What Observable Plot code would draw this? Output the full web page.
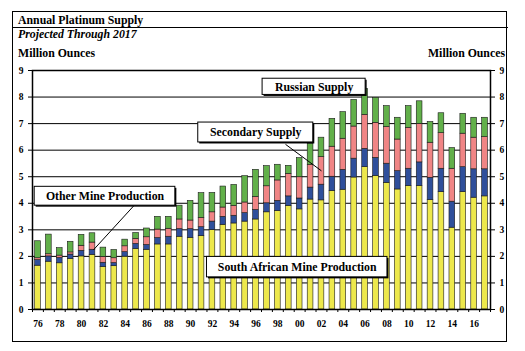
<!DOCTYPE html>
<html><head><meta charset="utf-8">
<script src="https://cdn.jsdelivr.net/npm/d3@7"></script>
<script src="https://cdn.jsdelivr.net/npm/@observablehq/plot@0.6"></script>
<style>
body{margin:0;background:#fff;font-family:"Liberation Serif",serif;}
#wrap{position:relative;width:525px;height:351px;overflow:hidden;}
.t{position:absolute;font-weight:bold;font-size:11.8px;white-space:nowrap;line-height:1;color:#000;}
</style></head><body>
<div id="wrap">
<div style="position:absolute;left:12px;top:11px;width:493px;height:329px;border:1.5px solid #000;"></div>
<div style="position:absolute;left:12px;top:26.5px;width:496px;height:1.6px;background:#000;"></div>
<div class="t" style="left:18px;top:15.2px">Annual Platinum Supply</div>
<div class="t" style="left:18px;top:29.4px;font-style:italic">Projected Through 2017</div>
<div class="t" style="left:18px;top:47.8px">Million Ounces</div>
<div class="t" style="right:20px;top:47.8px">Million Ounces</div>
<div id="chart" style="position:absolute;left:0;top:0"></div>
</div>
<script>
const years = d3.range(1976, 2018);
const southAfrican = [1.65,1.80,1.74,1.90,2.00,2.06,1.60,1.63,1.99,2.28,2.25,2.45,2.45,2.74,2.70,2.76,2.99,3.19,3.24,3.31,3.39,3.66,3.71,3.90,3.77,4.14,4.11,4.46,4.51,4.97,5.36,5.03,4.77,4.52,4.65,4.65,4.12,4.42,3.08,4.42,4.21,4.26];
const otherMine    = [0.21,0.20,0.20,0.17,0.21,0.19,0.16,0.12,0.17,0.19,0.18,0.24,0.29,0.29,0.33,0.34,0.32,0.30,0.29,0.32,0.36,0.34,0.38,0.36,0.41,0.45,0.59,0.54,0.75,0.71,0.69,0.68,0.72,0.69,0.65,0.89,0.84,0.88,0.98,0.94,1.07,1.02];
const secondary    = [0.07,0.08,0.09,0.08,0.19,0.27,0.22,0.18,0.22,0.19,0.29,0.32,0.30,0.36,0.32,0.35,0.35,0.35,0.37,0.40,0.49,0.64,0.77,0.85,0.80,0.86,1.04,1.13,1.17,1.21,1.28,1.32,1.38,1.19,1.54,1.45,1.32,1.34,1.24,1.26,1.19,1.21];
const russian      = [0.64,0.74,0.28,0.40,0.41,0.35,0.35,0.31,0.25,0.22,0.33,0.48,0.45,0.52,0.74,0.93,0.73,0.79,0.79,0.99,1.02,0.76,0.59,0.30,0.72,0.79,0.73,1.05,1.00,1.00,0.98,0.94,0.79,0.82,0.82,0.85,0.78,0.75,0.78,0.75,0.75,0.73];
const seriesNames = ["South African Mine Production","Other Mine Production","Secondary Supply","Russian Supply"];
const seriesColors = ["#ede84c","#2f4f9b","#f08585","#62b04a"];
const yTicks = d3.range(0, 10);
const xBoundaries = d3.range(1976, 2019);
const xLabelYears = d3.range(1976, 2018, 2);

const notes = [
  {label:"Other Mine Production", x1:1976.2, x2:1989.1, y1:3.91, y2:4.62},
  {label:"Secondary Supply", x1:1991.2, x2:2001.75, y1:6.29, y2:7.04},
  {label:"Russian Supply", x1:1997.1, x2:2006.55, y1:8.08, y2:8.69},
  {label:"South African Mine Production", x1:1992.0, x2:2008.55, y1:1.21, y2:1.98}
];
const leaders = [
  {x1:1985.3, y1:3.91, x2:1981.6, y2:2.25},
  {x1:1999.2, y1:6.22, x2:2002.5, y2:5.22}
];

const seriesArrays = [southAfrican, otherMine, secondary, russian];
const table = years.flatMap((yr, i) => seriesArrays.map((arr, k) => ({year: yr, series: seriesNames[k], value: arr[i]})));

const chart = Plot.plot({
  width: 525, height: 351,
  marginLeft: 32, marginRight: 35, marginTop: 70, marginBottom: 42,
  style: {fontFamily: "Liberation Serif", fontWeight: "bold", fontSize: "9.5px", color: "#000", background: "transparent", overflow: "visible"},
  x: {domain: [1976, 2018]},
  y: {domain: [0, 9]},
  color: {domain: seriesNames, range: seriesColors},
  marks: [
    Plot.gridY(yTicks, {stroke: "#000", strokeOpacity: 1, strokeWidth: 1}),
    Plot.rectY(table, Plot.stackY({x1: "year", x2: d => d.year + 1, y: "value", fill: "series", order: seriesNames,
      stroke: "#1a1a1a", strokeWidth: 0.6, insetLeft: 2.6, insetRight: 2.6})),
    Plot.frame({stroke: "#000", strokeWidth: 1.5}),
    Plot.axisY({anchor: "left", ticks: yTicks, tickSize: 4, tickPadding: 5, label: null, tickFormat: d => d}),
    Plot.axisY({anchor: "right", ticks: yTicks, tickSize: 4, tickPadding: 5, label: null, tickFormat: d => d}),
    Plot.axisX({ticks: xBoundaries, tickSize: 3, tickFormat: () => "", label: null}),
    Plot.axisX({ticks: xLabelYears.map(y => y + 0.5), tickSize: 0, tickPadding: 11, label: null,
      tickFormat: d => String(Math.floor(d) % 100).padStart(2, "0")}),
    Plot.link(leaders, {x1: "x1", y1: "y1", x2: "x2", y2: "y2", stroke: "#000", strokeWidth: 1}),
    Plot.rect(notes, {x1: "x1", x2: "x2", y1: "y1", y2: "y2", fill: "#000", dx: 1.5, dy: 1.5}),
    Plot.rect(notes, {x1: "x1", x2: "x2", y1: "y1", y2: "y2", fill: "#fff", stroke: "#000", strokeWidth: 1}),
    Plot.text(notes, {x: d => (d.x1 + d.x2) / 2, y: d => (d.y1 + d.y2) / 2, text: "label", fontSize: 11.8, fontWeight: "bold", fill: "#000"})
  ]
});
document.getElementById("chart").appendChild(chart);
</script>
</body></html>
